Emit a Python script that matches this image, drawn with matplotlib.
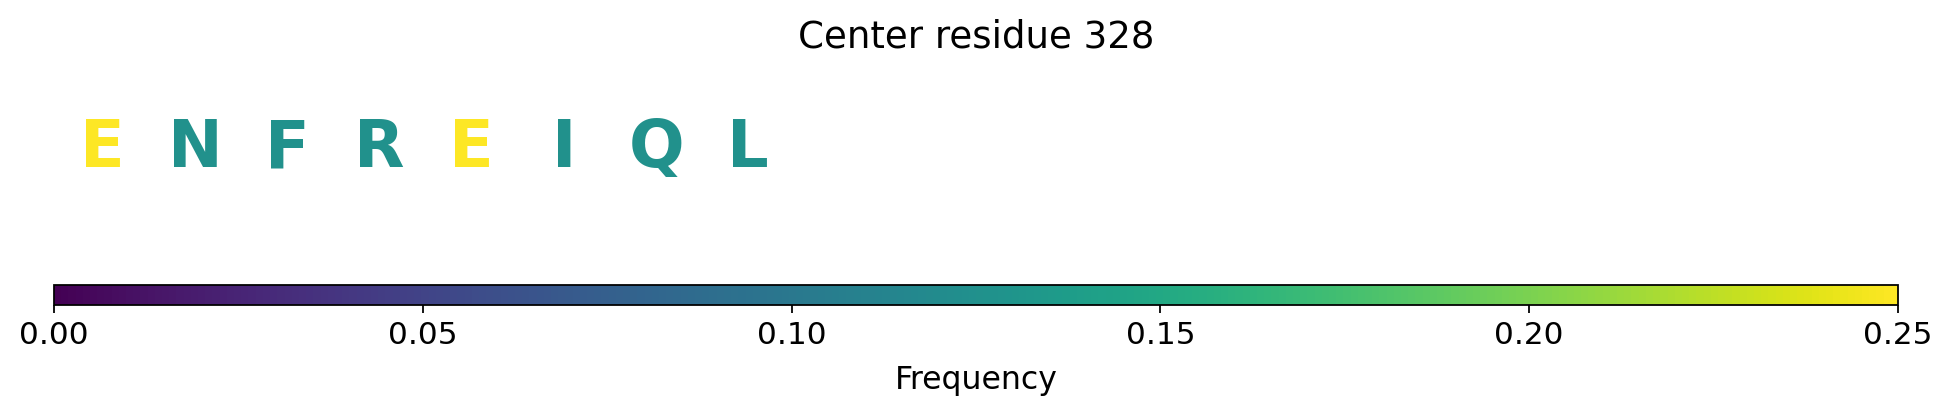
import numpy as np
import matplotlib
matplotlib.use("Agg")
import matplotlib.pyplot as plt
from matplotlib import colors
from matplotlib.colorbar import ColorbarBase

# residues around center residue 328 and their frequency in the window
residues = ["E", "N", "F", "R", "E", "I", "Q", "L"]
freqs = [0.25, 0.125, 0.125, 0.125, 0.25, 0.125, 0.125, 0.125]
window = 20
center_residue = 328
cbar_ticks = [0.00, 0.05, 0.10, 0.15, 0.20, 0.25]

W, H = 1952, 416
dpi = 160
fig = plt.figure(figsize=(W / dpi, H / dpi), dpi=dpi)

cmap = matplotlib.colormaps["viridis"]
norm = colors.Normalize(vmin=0.0, vmax=0.25)

# Letter row
ax = fig.add_axes([54 / W, (H - 226) / H, 1844 / W, 166 / H])
ax.set_xlim(-0.53, window - 0.53)
ax.set_ylim(0, 1)
ax.axis("off")
for i, (res, f) in enumerate(zip(residues, freqs)):
    ax.text(i, 0.355, res, ha="center", va="baseline", fontsize=29.5,
            fontweight="bold", color=cmap(norm(f)))

# Colorbar
cax = fig.add_axes([54 / W, (H - 305) / H, 1844 / W, 20 / H])
cb = ColorbarBase(cax, cmap=cmap, norm=norm, orientation="horizontal")
cb.set_ticks(cbar_ticks)
cb.set_ticklabels([f"{t:.2f}" for t in cbar_ticks])
cb.ax.tick_params(labelsize=14)
cb.set_label("Frequency", fontsize=14.2, labelpad=7)

fig.text(0.5, 1 - 48 / H, f"Center residue {center_residue}", ha="center",
         va="baseline", fontsize=16.7)

fig.savefig("out.png", dpi=dpi)
plt.close()
